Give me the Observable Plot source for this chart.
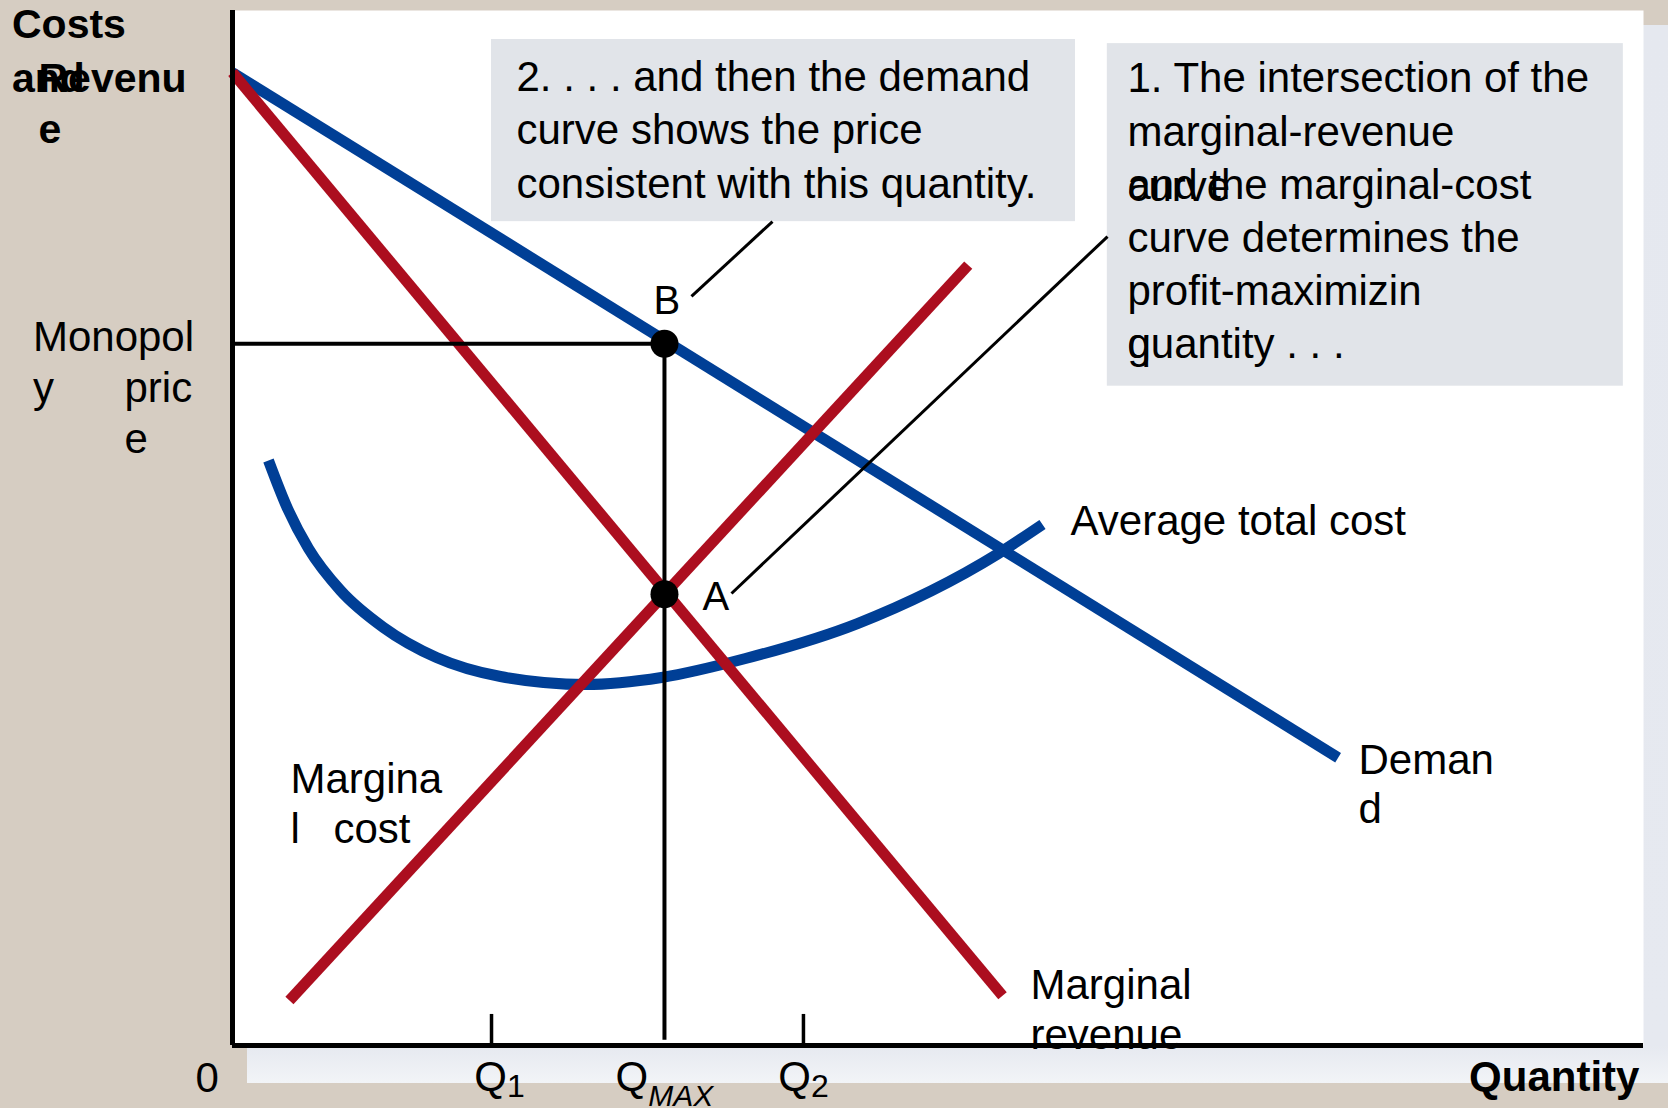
<!DOCTYPE html>
<html><head><meta charset="utf-8">
<script src="https://cdn.jsdelivr.net/npm/d3@7"></script>
<script src="https://cdn.jsdelivr.net/npm/@observablehq/plot@0.6"></script>
<style>
html,body{margin:0;padding:0;width:1668px;height:1108px;overflow:hidden;background:#d6cdc2;}
#stage{position:relative;width:1668px;height:1108px;}
#shadow{position:absolute;left:247px;top:25px;width:1421px;height:1058px;
  background:linear-gradient(to bottom,#e5e8ef 0%,#e6e9f0 96.5%,#f2f4f7 100%);}
#chart{position:absolute;left:0;top:0;}
</style></head><body>
<div id="stage"><div id="shadow"></div><div id="chart"></div></div>
<script>
// ---- curve values (quantity, price) ----
const demandQ = [0, 10.97];
const demandP = [9.40, 2.78];
const mrQ = [0, 7.64];
const mrP = [9.40, 0.48];
const mcQ = [0.565, 7.30];
const mcP = [0.435, 7.54];
const atcQ = [0.357, 0.546, 0.754, 1.072, 1.498, 2.024, 2.659, 3.502, 4.256, 5.090, 6.201, 7.600, 8.037];
const atcP = [5.652, 5.188, 4.802, 4.396, 4.039, 3.749, 3.565, 3.488, 3.556, 3.739, 4.077, 4.754, 5.034];
const qMax = 4.286;
const monopolyPrice = 6.78;
const mcEqualsMr = 4.36;
const sideQ = [2.57, 5.665];
const tickQ = [2.57, 4.286, 5.665];
const tickSub = ["1", "MAX", "2"];

// ---- annotations (data units) ----
const noteBoxes = [
  {x1: 2.570, x2: 8.364, y1: 7.96, y2: 9.72},
  {x1: 8.680, x2: 13.80, y1: 6.37, y2: 9.68}
];
const note2 = "2. . . . and then the demand\ncurve shows the price\nconsistent with this quantity.";
const note1 = "1. The intersection of the\nmarginal-revenue\nand the marginal-cost\ncurve determines the\nprofit-maximizin\nquantity . . .";
const leaders = [
  {x1: 4.554, y1: 7.237, x2: 5.358, y2: 7.961},
  {x1: 4.951, y1: 4.367, x2: 8.682, y2: 7.816}
];
const curveLabels = [
  {t: "Average total cost", x: 8.315, y: 4.928},
  {t: "Deman\nd", x: 11.172, y: 2.145},
  {t: "Margina\nl", x: 0.575, y: 1.952},
  {t: "cost", x: 1.002, y: 1.952},
  {t: "Marginal\nrevenue", x: 7.918, y: -0.029}
];
const pointLabels = [
  {t: "A", x: 4.663, y: 4.203},
  {t: "B", x: 4.177, y: 7.063}
];

const zip = (xs, ys) => xs.map((x, i) => ({x, y: ys[i]}));
const BLUE = "#003f96", RED = "#ac0e1f";
const FONT = "'Liberation Sans', Arial, Helvetica, sans-serif";

const svg = Plot.plot({
  width: 1668, height: 1108,
  marginLeft: 232, marginRight: 25, marginTop: 10, marginBottom: 63,
  x: {domain: [0, 14], axis: null},
  y: {domain: [0, 10], axis: null},
  style: {background: "transparent", fontFamily: FONT, color: "black"},
  marks: [
    Plot.frame({fill: "white", stroke: "none"}),
    Plot.rect(noteBoxes, {x1: "x1", x2: "x2", y1: "y1", y2: "y2", fill: "#e1e4e9"}),
    Plot.text([note2], {x: 2.818, y: 8.193, text: d => d, textAnchor: "start", lineAnchor: "bottom", lineHeight: 1.274, fontSize: 42, fill: "black"}),
    Plot.text([note1], {x: 8.880, y: 6.638, text: d => d, textAnchor: "start", lineAnchor: "bottom", lineHeight: 1.267, fontSize: 42, fill: "black"}),
    Plot.text(["curve"], {x: 8.880, y: 8.164, text: d => d, textAnchor: "start", lineAnchor: "bottom", fontSize: 42, fill: "black"}),
    Plot.text(["g"], {x: 8.880, y: 6.638, text: d => d, textAnchor: "start", lineAnchor: "bottom", fontSize: 42, fill: "black"}),
    // curves
    Plot.line(zip(demandQ, demandP), {x: "x", y: "y", stroke: BLUE, strokeWidth: 11, strokeLinecap: "butt"}),
    Plot.line(zip(atcQ, atcP), {x: "x", y: "y", stroke: BLUE, strokeWidth: 11, strokeLinecap: "butt", curve: "monotone-x"}),
    Plot.line(zip(mrQ, mrP), {x: "x", y: "y", stroke: RED, strokeWidth: 11, strokeLinecap: "butt"}),
    Plot.line(zip(mcQ, mcP), {x: "x", y: "y", stroke: RED, strokeWidth: 11, strokeLinecap: "butt"}),
    // guides
    Plot.ruleY([monopolyPrice], {x1: 0, x2: qMax, stroke: "black", strokeWidth: 4}),
    Plot.ruleX([qMax], {y1: 0.05, y2: monopolyPrice, stroke: "black", strokeWidth: 4}),
    Plot.ruleX(sideQ, {y1: 0, y2: 0.30, stroke: "black", strokeWidth: 3.5}),
    Plot.link(leaders, {x1: "x1", y1: "y1", x2: "x2", y2: "y2", stroke: "black", strokeWidth: 3}),
    // axes
    Plot.ruleX([0], {stroke: "black", strokeWidth: 5}),
    Plot.ruleY([0], {stroke: "black", strokeWidth: 5}),
    // points
    Plot.dot([{x: qMax, y: mcEqualsMr}, {x: qMax, y: monopolyPrice}], {x: "x", y: "y", r: 14, fill: "black", stroke: "none"}),
    // labels
    Plot.text(curveLabels, {x: "x", y: "y", text: "t", textAnchor: "start", lineAnchor: "bottom", lineHeight: 1.19, fontSize: 42, fill: "black"}),
    Plot.text(pointLabels, {x: "x", y: "y", text: "t", textAnchor: "start", lineAnchor: "bottom", fontSize: 40, fill: "black"}),
    // axis titles / outer labels
    Plot.text(["Costs\nand"], {x: -2.188, y: 9.208, text: d => d, textAnchor: "start", lineAnchor: "bottom", lineHeight: 1.317, fontSize: 41, fontWeight: "bold", fill: "black"}),
    Plot.text(["Revenu\ne"], {x: -1.925, y: 8.715, text: d => d, textAnchor: "start", lineAnchor: "bottom", lineHeight: 1.244, fontSize: 41, fontWeight: "bold", fill: "black"}),
    Plot.text(["Monopol\ny"], {x: -1.980, y: 6.222, text: d => d, textAnchor: "start", lineAnchor: "bottom", lineHeight: 1.214, fontSize: 42, fill: "black"}),
    Plot.text(["pric\ne"], {x: -1.072, y: 5.729, text: d => d, textAnchor: "start", lineAnchor: "bottom", lineHeight: 1.214, fontSize: 42, fill: "black"}),
    Plot.text(["0"], {x: -0.367, y: -0.454, text: d => d, textAnchor: "start", lineAnchor: "bottom", fontSize: 42, fill: "black"}),
    Plot.text(["Quantity"], {x: 13.96, y: -0.435, text: d => d, textAnchor: "end", lineAnchor: "bottom", fontSize: 42, fontWeight: "bold", fill: "black"}),
    Plot.text(tickQ, {x: d => d, y: -0.444, text: () => "Q", textAnchor: "middle", lineAnchor: "bottom", fontSize: 42, fill: "black"})
  ]
});

// add the subscripts to the Q tick labels
const qTexts = d3.select(svg).selectAll("text").filter(function() { return this.textContent === "Q"; }).nodes();
qTexts.forEach((node, i) => {
  const s = tickSub[i];
  const ts = d3.select(node).append("tspan")
    .attr("dy", s === "MAX" ? 15 : 6)
    .attr("font-size", s === "MAX" ? 30 : 32)
    .text(s);
  if (s === "MAX") ts.attr("font-style", "italic");
  if (s === "1") d3.select(node).attr("dx", 8);
});

document.getElementById("chart").appendChild(svg);
</script>
</body></html>
